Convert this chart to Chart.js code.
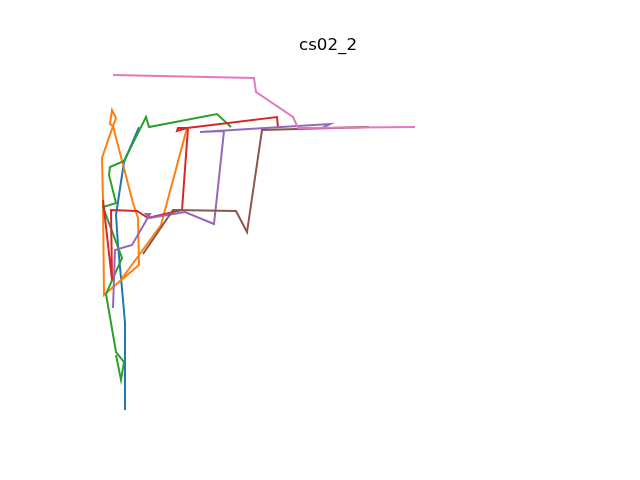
<!DOCTYPE html>
<html>
<head>
<meta charset="utf-8">
<script src="https://cdn.jsdelivr.net/npm/chart.js@4"></script>
<style>
  html, body { margin: 0; padding: 0; background: #ffffff; }
  #c { display: block; }
</style>
</head>
<body>
<canvas id="c" width="640" height="480"></canvas>
<script>
// Track names and point lists (x, y)
const seriesNames = ["track0", "track1", "track2", "track3", "track4", "track5", "track6"];
const track0 = [[139,127],[124,162],[116,215],[118,245],[123,300],[125,323],[125,410]];
const track1 = [[187,128],[161,225],[120,281],[139,265],[138,218],[133,203],[113,126],[110,124],[112,110],[116,118],[113,126],[102,158],[103,200],[104,295],[120,281]];
const track2 = [[231,127],[217,114],[149,127],[146,117],[124,161],[110,167],[109,175],[116,203],[103,207],[122,258],[106,294],[116,352],[124,362],[121,380],[116,355]];
const track3 = [[278,127],[277,117],[187,128],[177,131],[178,128],[188,128],[182,210],[148,218],[137,211],[111,210],[112,280],[103,200]];
const track4 = [[322,128],[330,124],[200,132],[224,131],[214,224],[185,212],[150,218],[146,214],[150,214],[132,245],[115,250],[113,308]];
const track5 = [[369,127],[262,130],[247,232],[236,211],[173,210],[143,254]];
const track6 = [[113,75],[254,78],[256,92],[293,117],[298,128],[415,127]];
const tracks = [track0, track1, track2, track3, track4, track5, track6];
const colors = ["#1f77b4", "#ff7f0e", "#2ca02c", "#d62728", "#9467bd", "#8c564b", "#e377c2"];
const titleText = "cs02_2";

const datasets = tracks.map((t, i) => ({
  label: seriesNames[i],
  data: t.map(p => ({ x: p[0], y: p[1] })),
  showLine: true,
  borderColor: colors[i],
  backgroundColor: colors[i],
  borderWidth: 2,
  pointRadius: 0,
  tension: 0,
  fill: false,
  order: tracks.length - i,
  borderJoinStyle: 'miter',
  borderCapStyle: 'butt'
}));

new Chart(document.getElementById('c'), {
  type: 'scatter',
  data: { datasets },
  options: {
    responsive: false,
    animation: false,
    devicePixelRatio: 1,
    layout: { padding: { left: 80, right: 64, top: 25.5, bottom: 52.8 } },
    plugins: {
      legend: { display: false },
      tooltip: { enabled: false },
      title: {
        display: true,
        text: titleText,
        color: '#000000',
        font: { family: 'DejaVu Sans', size: 16.7, weight: 'normal', lineHeight: 1.2 },
        padding: { top: 10, bottom: 2.1 }
      }
    },
    scales: {
      x: { type: 'linear', display: false, min: 80, max: 576 },
      y: { type: 'linear', display: false, min: 57.6, max: 427.2, reverse: true }
    }
  }
});
</script>
</body>
</html>
